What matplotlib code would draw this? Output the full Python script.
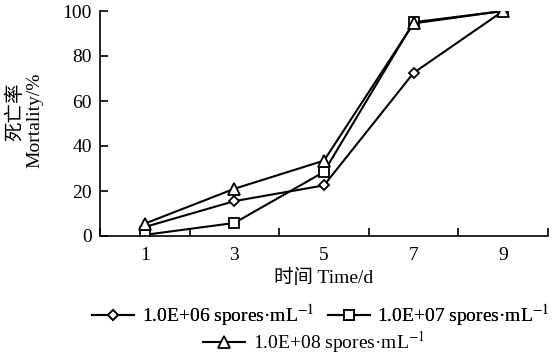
import matplotlib
matplotlib.use("Agg")
import matplotlib.pyplot as plt

plt.rcParams['font.family'] = ['Liberation Serif', 'Noto Sans CJK SC', 'DejaVu Sans']
plt.rcParams['mathtext.fontset'] = 'stix'

days = ["1", "3", "5", "7", "9"]
mort_e6 = [4, 15.5, 22.5, 72.5, 100]
mort_e7 = [0.5, 5.8, 28.5, 95, 100]
mort_e8 = [5.5, 21, 33.5, 94.5, 100]
labels = ["1.0E+06 spores·mL$^{-1}$", "1.0E+07 spores·mL$^{-1}$", "1.0E+08 spores·mL$^{-1}$"]
markers = ["D", "s", "^"]
sizes = [5.5, 7, 8]

fig = plt.figure(figsize=(5.58, 3.6), dpi=100)
ax = fig.add_axes([100 / 558, 1 - 236 / 360, 448 / 558, 225 / 360])

x = range(len(days))
handles = []
for ys, m, lab, ms in zip([mort_e6, mort_e7, mort_e8], markers, labels, sizes):
    h, = ax.plot(x, ys, color="black", lw=1.5, marker=m, ms=ms,
                 mfc="white", mec="black", mew=1.3, label=lab)
    handles.append(h)

ax.set_xlim(-0.5, len(days) - 0.5)
ax.set_ylim(0, 100)
ax.set_yticks(range(0, 101, 20))
# category boundaries carry the tick marks, labels sit between them
ax.set_xticks([i + 0.5 for i in range(-1, len(days))])
ax.set_xticklabels([])
ax.set_xticks(list(x), minor=True)
ax.set_xticklabels(days, minor=True)
ax.tick_params(axis="x", which="major", direction="in", length=6, width=1.2)
ax.tick_params(axis="x", which="minor", length=0, pad=8, labelsize=14)
ax.tick_params(axis="y", direction="in", length=6, width=1.2, labelsize=14, pad=6)
for s in ["top", "right"]:
    ax.spines[s].set_visible(False)
for s in ["left", "bottom"]:
    ax.spines[s].set_linewidth(1.2)

ax.set_xlabel("时间 Time/d", fontsize=14, labelpad=3)
fig.text(15 / 558, 1 - 112 / 360, "死亡率", rotation=90, ha="center", va="center", fontsize=14)
fig.text(35 / 558, 1 - 120 / 360, "Mortality/%", rotation=90, ha="center", va="center", fontsize=14)

leg_kw = dict(loc="center", frameon=False, fontsize=14, handlelength=2.15,
              handletextpad=0.4, borderaxespad=0, borderpad=0)
leg1 = fig.legend(handles[:2], labels[:2], ncol=2, columnspacing=0.7,
                  bbox_to_anchor=(321 / 558, 1 - 315 / 360), **leg_kw)
leg2 = fig.legend(handles[2:], labels[2:], bbox_to_anchor=(314 / 558, 1 - 342 / 360), **leg_kw)
fig.add_artist(leg1)

fig.savefig("out.png", dpi=100)
